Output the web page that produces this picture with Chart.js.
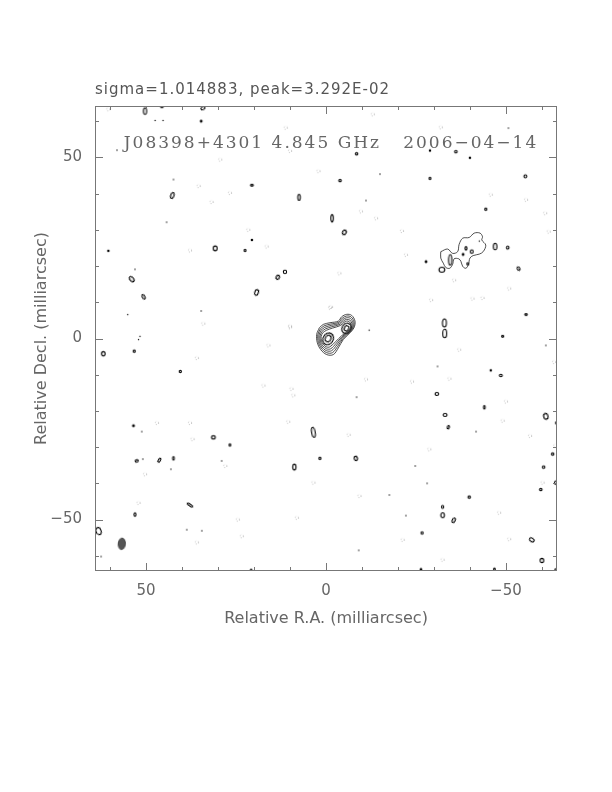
<!DOCTYPE html>
<html lang="en">
<head>
  <meta charset="UTF-8">
  <title>J08398+4301 4.845 GHz</title>
  <script src="https://cdn.jsdelivr.net/npm/chart.js"></script>
  <style>
    body { margin: 0; background: #ffffff; }
    canvas { display: block; }
  </style>
</head>
<body>
  <canvas id="map" width="612" height="792"></canvas>

  <script>
    // map extent (milliarcsec) and labels
    const raRange = [-64.2, 64.2];
    const decRange = [-64.2, 64.2];
    const tickStep = 10;
    const headerText = 'sigma=1.014883, peak=3.292E-02';
    const plotLabel = 'J08398+4301 4.845 GHz   2006\u221204\u221214';
    const xTitle = 'Relative R.A. (milliarcsec)';
    const yTitle = 'Relative Decl. (milliarcsec)';

    // core: closed contours enclosing both components, outer -> inner
    const coreL1 = [[1.85,2.96],[0.74,3.9],[-1.11,4.35],[-3.43,4.8],[-4.35,6.0],[-5.74,6.67],[-7.13,6.39],[-8.06,4.8],[-7.78,2.96],[-6.67,1.57],[-4.81,-0.28],[-3.43,-2.59],[-2.04,-4.44],[-0.19,-4.44],[1.48,-3.06],[2.41,-1.2],[2.59,1.11]];
    const coreL2 = [[1.63,2.6],[0.54,3.49],[-1.29,3.98],[-3.58,4.5],[-4.51,5.62],[-5.74,6.21],[-6.96,5.96],[-7.78,4.56],[-7.53,2.94],[-6.55,1.72],[-4.69,-0.02],[-3.23,-2.18],[-1.8,-3.91],[-0.17,-3.91],[1.3,-2.69],[2.12,-1.06],[2.28,0.98]];
    const coreL3 = [[1.41,2.25],[0.33,3.08],[-1.47,3.62],[-3.73,4.2],[-4.67,5.23],[-5.73,5.74],[-6.79,5.53],[-7.49,4.32],[-7.28,2.92],[-6.44,1.87],[-4.56,0.23],[-3.02,-1.76],[-1.55,-3.37],[-0.14,-3.37],[1.12,-2.33],[1.83,-0.91],[1.97,0.84]];
    const coreL4 = [[1.18,1.89],[0.13,2.67],[-1.65,3.25],[-3.88,3.9],[-4.84,4.85],[-5.73,5.28],[-6.62,5.1],[-7.21,4.08],[-7.03,2.9],[-6.32,2.01],[-4.44,0.49],[-2.82,-1.35],[-1.31,-2.84],[-0.12,-2.84],[0.95,-1.96],[1.54,-0.77],[1.66,0.71]];
    const coreL5 = [[0.96,1.54],[-0.07,2.25],[-1.83,2.88],[-4.03,3.6],[-5.0,4.46],[-5.72,4.81],[-6.44,4.67],[-6.93,3.84],[-6.78,2.88],[-6.2,2.16],[-4.31,0.74],[-2.62,-0.93],[-1.06,-2.31],[-0.1,-2.31],[0.77,-1.59],[1.25,-0.62],[1.35,0.58]];

    // north-east extended emission, lowest contour
    const neOutline = [[-31.9,23.97],[-33.8,24.7],[-35.2,23.5],[-36.6,24.0],[-37.0,26.0],[-38.0,27.7],[-39.8,27.9],[-41.2,29.1],[-42.8,29.1],[-43.5,28.1],[-43.3,27.2],[-44.4,25.8],[-43.7,24.0],[-42.6,23.3],[-40.9,22.9],[-40.0,22.2],[-39.6,20.5],[-38.9,19.4],[-38.0,19.9],[-37.5,21.3],[-36.9,22.0],[-35.6,22.0],[-35.2,20.5],[-34.4,19.4],[-33.3,19.6],[-32.6,20.8],[-31.9,22.2]];

    // small positive contours: [ra, dec, width, height, tilt deg] (mas)
    const posBlobs = [
      [-0.6,-0.1,2.8,3.4,30],[-0.6,0.0,1.5,1.9,30],[-5.7,2.8,2.5,3.0,30],[-5.7,2.8,1.2,1.5,30],
      [-34.5,21.7,0.9,2.9,0],[-38.9,24.9,0.6,0.9,0],[-40.5,24.0,0.8,1.0,0],[-38.1,23.2,0.5,0.5,0],[-39.4,20.6,0.5,0.7,0],[-42.6,26.9,0.25,0.25,0],
      [50.3,62.8,0.9,1.8,0],[45.6,64.0,0.8,0.5,0],[34.2,63.6,1.2,0.8,-30],[34.7,60.0,0.5,0.5,0],[47.5,60.2,0.25,0.25,0],[45.3,60.2,0.25,0.25,0],
      [58.1,52.0,0.3,0.3,0],[42.4,43.9,0.3,0.3,0],[42.7,39.5,0.9,1.7,20],[20.6,42.3,0.8,0.5,0],[7.5,39.0,0.7,1.7,0],[44.3,32.1,0.3,0.3,0],
      [30.8,24.9,1.1,1.3,0],[22.5,24.3,0.5,0.6,0],[20.6,27.2,0.4,0.4,0],[60.5,24.2,0.4,0.4,0],[54.0,16.4,1.0,1.7,-40],[53.1,19.1,0.3,0.3,0],
      [50.7,11.5,0.7,1.4,-30],[13.4,16.9,0.9,1.2,30],[11.4,18.4,0.9,1.0,0],[19.3,12.7,1.0,1.6,20],[34.7,7.6,0.3,0.3,0],[55.1,6.6,0.25,0.25,0],[51.7,0.6,0.25,0.25,0],
      [-8.5,51.0,0.7,0.6,0],[-3.9,43.6,0.7,0.6,0],[-15.0,45.4,0.3,0.3,0],[-28.9,44.2,0.5,0.6,0],[-36.1,51.6,0.7,0.7,0],[-40.0,49.9,0.4,0.3,0],
      [-28.9,51.9,0.4,0.3,0],[-55.4,44.8,0.8,0.8,0],[-11.1,38.1,0.3,0.3,0],[-44.4,35.7,0.6,0.6,0],[-1.7,33.2,0.7,2.0,0],[-5.1,29.3,1.0,1.3,30],
      [-27.8,21.2,0.5,0.5,0],[-47.0,25.4,1.0,1.8,0],[-50.5,25.1,0.7,0.8,0],[-53.5,19.3,0.7,1.1,-30],[-32.2,19.0,1.6,1.4,0],[-55.6,6.6,0.7,0.5,0],
      [-32.9,4.3,1.1,2.2,0],[-33.0,1.4,1.1,2.4,0],[-49.1,0.6,0.6,0.5,0],[-50.7,58.1,0.3,0.3,0],[-12.0,2.3,0.25,0.25,0],
      [61.9,-4.2,1.0,1.2,0],[53.3,-3.5,0.6,0.6,0],[52.1,-0.3,0.25,0.25,0],[40.5,-9.1,0.6,0.6,0],[53.5,-24.1,0.5,0.5,0],[51.2,-25.7,0.3,0.3,0],
      [31.3,-27.3,1.1,0.9,0],[26.7,-29.4,0.5,0.6,0],[52.6,-33.8,0.9,0.6,-20],[50.9,-33.3,0.3,0.3,0],[46.3,-33.6,0.6,1.2,30],[42.4,-33.1,0.5,1.0,0],
      [43.1,-36.1,0.3,0.3,0],[29.0,-33.8,0.3,0.3,0],[3.5,-25.9,1.0,2.8,-10],[1.7,-33.1,0.6,0.6,0],[8.8,-35.5,0.9,1.6,0],[37.8,-46.0,0.5,1.8,-55],
      [53.1,-48.6,0.6,1.0,0],[63.2,-53.2,1.4,2.0,-20],[38.7,-52.8,0.3,0.3,0],[34.5,-53.1,0.35,0.35,0],[62.5,-60.2,0.3,0.3,0],[20.8,-64.0,0.5,0.5,0],
      [-45.8,-8.8,0.4,0.4,0],[-48.6,-10.2,0.8,0.7,0],[-31.0,-7.7,0.3,0.3,0],[-30.8,-15.3,1.0,0.8,0],[-44.0,-19.0,0.5,0.9,0],[-33.1,-21.1,1.1,0.8,0],
      [-34.0,-24.5,0.6,0.9,20],[-61.1,-21.5,1.2,1.6,-15],[-64.0,-23.3,0.4,0.6,0],[-41.7,-25.7,0.3,0.3,0],[-8.3,-33.1,0.9,1.2,-15],[-63.0,-31.9,0.7,0.6,0],
      [-60.5,-35.5,0.7,0.7,0],[-63.9,-39.8,0.8,1.0,0],[-59.7,-41.7,0.7,0.6,0],[-39.8,-43.8,0.7,0.6,0],[-32.4,-46.5,0.6,0.8,0],[-32.4,-48.8,1.0,1.4,0],
      [-35.5,-50.2,0.8,1.4,25],[-26.7,-53.7,0.6,0.7,0],[-57.2,-55.6,1.4,1.0,35],[-60.0,-61.3,1.0,1.2,0],[-26.4,-63.8,0.5,0.5,0],[-46.8,-63.7,0.5,0.6,0],
      [-63.9,-63.9,0.6,0.6,0],[-8.5,-16.2,0.3,0.3,0],[-24.8,-35.2,0.3,0.3,0],[-28.1,-40.0,0.3,0.3,0],[-17.6,-43.2,0.3,0.3,0],[-22.2,-48.9,0.3,0.3,0],
      [-9.1,-58.5,0.3,0.3,0],[-61.1,-1.9,0.3,0.3,0]
    ];

    // negative (dashed) contours: [ra, dec]
    const negBlobs = [
      [29.4,49.4],[35.4,42.1],[31.8,37.7],[26.7,40.2],[21.6,30.0],[16.5,25.4],[37.8,24.3],[11.2,58.2],[10.0,51.8],[2.1,46.2],[34.1,4.1],[10.0,3.1],[60.5,63.3],
      [-13.0,61.9],[-31.9,58.3],[-45.8,39.7],[-55.6,38.3],[-60.9,34.6],[-61.9,29.5],[-21.1,29.7],[-22.2,23.1],[-35.6,16.1],[-40.7,11.0],[-43.5,11.2],
      [-50.9,13.8],[-29.2,10.6],[-1.4,8.7],[-3.7,18.0],[-13.9,33.2],[-9.7,35.1],[-1.1,8.5],[10.0,3.4],
      [35.9,-5.4],[17.4,-13.0],[9.6,-13.9],[9.1,-15.7],[10.5,-23.0],[47.0,-23.3],[37.8,-23.3],[37.1,-27.8],[50.3,-37.5],[52.1,-45.4],[24.5,-50.0],
      [23.4,-54.6],[35.9,-56.3],[16.0,-1.9],[3.5,-39.8],[8.1,-49.5],[28.0,-35.2],
      [-37.0,-3.1],[-11.1,-11.3],[-23.9,-11.9],[-34.3,-11.1],[-50.0,-17.4],[-49.1,-22.7],[-6.3,-26.6],[-28.7,-30.6],[-9.3,-43.5],[-48.1,-48.1],
      [-50.9,-55.4],[-21.3,-55.6],[-32.4,-61.1],[-56.7,-26.9],[-63.7,-29.6],[-60.2,-39.8],[-63.4,-6.5]
    ];
    const negSize = 0.9;

    // restoring beam: [ra, dec, width, height, tilt]
    const beam = [[56.75, -56.7, 2.0, 3.2, 5]];

    const ink = '#000000';
    const tickFont = { family: 'DejaVu Sans', size: 15 };
    const titleFont = { family: 'DejaVu Sans', size: 16 };
    const labelColor = '#666666';

    const imgCache = {};
    function blobImage(c, b, kind) {
      if (!b) return 'circle';
      const xs = c.chart.scales.x;
      const k = Math.abs(xs.getPixelForValue(1) - xs.getPixelForValue(0));
      const w = b[2] * k, h = b[3] * k;
      const key = kind + w.toFixed(2) + 'x' + h.toFixed(2);
      if (imgCache[key]) return imgCache[key];
      const size = Math.ceil(Math.max(w, h)) + 6;
      const cv = document.createElement('canvas');
      cv.width = size; cv.height = size;
      const g = cv.getContext('2d');
      g.beginPath();
      g.ellipse(size / 2, size / 2, Math.max(w / 2, 0.7), Math.max(h / 2, 0.7), 0, 0, Math.PI * 2);
      if (kind === 'beam') {
        g.fillStyle = '#555555'; g.fill();
        g.strokeStyle = '#333333'; g.lineWidth = 0.8; g.stroke();
      } else if (kind === 'neg') {
        g.setLineDash([0.8, 1.8]);
        g.strokeStyle = '#999999'; g.lineWidth = 0.8; g.stroke();
      } else if (b[2] < 0.4) {
        g.fillStyle = ink; g.fill();
      } else {
        g.strokeStyle = ink; g.lineWidth = 1.1; g.stroke();
      }
      imgCache[key] = cv;
      return cv;
    }

    function blobSet(list, kind) {
      return {
        type: 'scatter',
        data: list.map(b => ({ x: b[0], y: b[1] })),
        pointStyle: c => blobImage(c, list[c.dataIndex], kind),
        rotation: c => (list[c.dataIndex] ? list[c.dataIndex][4] || 0 : 0),
        pointRadius: 3,
        borderWidth: 0
      };
    }

    function contourSet(points) {
      const pts = points.concat([points[0]]).map(p => ({ x: p[0], y: p[1] }));
      return {
        type: 'scatter',
        data: pts,
        showLine: true,
        borderColor: '#222222',
        borderWidth: 0.8,
        pointRadius: 0,
        tension: 0.35
      };
    }

    const negSet = blobSet(negBlobs.map(n => [n[0], n[1], negSize, negSize, 0]), 'neg');

    // frame with inward ticks on all four sides, plus the two header texts
    const framePlugin = {
      id: 'frame',
      afterDraw(chart) {
        const { ctx, chartArea: a, scales } = chart;
        ctx.save();
        ctx.strokeStyle = '#777777';
        ctx.lineWidth = 1;
        ctx.strokeRect(a.left + 0.5, a.top + 0.5, a.right - a.left - 1, a.bottom - a.top - 1);
        ctx.beginPath();
        scales.x.ticks.forEach(t => {
          const px = Math.round(scales.x.getPixelForValue(t.value)) + 0.5;
          const len = t.value % 50 === 0 ? 8 : 4;
          ctx.moveTo(px, a.bottom); ctx.lineTo(px, a.bottom - len);
          ctx.moveTo(px, a.top); ctx.lineTo(px, a.top + len);
        });
        scales.y.ticks.forEach(t => {
          const py = Math.round(scales.y.getPixelForValue(t.value)) + 0.5;
          const len = t.value % 50 === 0 ? 8 : 4;
          ctx.moveTo(a.left, py); ctx.lineTo(a.left + len, py);
          ctx.moveTo(a.right, py); ctx.lineTo(a.right - len, py);
        });
        ctx.stroke();

        ctx.fillStyle = '#555555';
        ctx.font = '15px "DejaVu Sans"';
        ctx.letterSpacing = '1px';
        ctx.textBaseline = 'alphabetic';
        ctx.textAlign = 'left';
        ctx.fillText(headerText, a.left, a.top - 12);

        ctx.fillStyle = '#666666';
        ctx.font = '17px "DejaVu Serif"';
        ctx.letterSpacing = '2px';
        ctx.textAlign = 'center';
        ctx.fillText(plotLabel, (a.left + a.right) / 2 + 5, a.top + 42);
        ctx.restore();
      }
    };

    function tickLabel(v) {
      if (v % 50 !== 0) return '';
      return v < 0 ? '\u2212' + Math.abs(v) : String(v);
    }

    new Chart(document.getElementById('map'), {
      type: 'scatter',
      data: {
        datasets: [
          contourSet(coreL1), contourSet(coreL2), contourSet(coreL3), contourSet(coreL4), contourSet(coreL5),
          contourSet(neOutline),
          blobSet(posBlobs, 'pos'),
          negSet,
          blobSet(beam, 'beam')
        ]
      },
      options: {
        responsive: false,
        animation: false,
        events: [],
        layout: { padding: { top: 106, right: 55, left: 0, bottom: 0 } },
        plugins: { legend: { display: false }, tooltip: { enabled: false } },
        scales: {
          x: {
            type: 'linear',
            reverse: true,
            min: raRange[0],
            max: raRange[1],
            afterFit: s => { s.height = 221; },
            grid: { display: false, drawTicks: false },
            border: { display: false },
            ticks: {
              stepSize: tickStep, includeBounds: false, autoSkip: false, maxRotation: 0,
              padding: 11, font: tickFont, color: labelColor, callback: tickLabel
            },
            title: { display: true, text: xTitle, font: titleFont, color: labelColor, padding: { top: 0, bottom: 164 } }
          },
          y: {
            type: 'linear',
            min: decRange[0],
            max: decRange[1],
            afterFit: s => { s.width = 95; },
            grid: { display: false, drawTicks: false },
            border: { display: false },
            ticks: {
              stepSize: tickStep, includeBounds: false, autoSkip: false,
              padding: 13, font: tickFont, color: labelColor, callback: tickLabel
            },
            title: { display: true, text: yTitle, font: titleFont, color: labelColor, padding: { top: 32, bottom: 0 } }
          }
        }
      },
      plugins: [framePlugin]
    });
  </script>
</body>
</html>
